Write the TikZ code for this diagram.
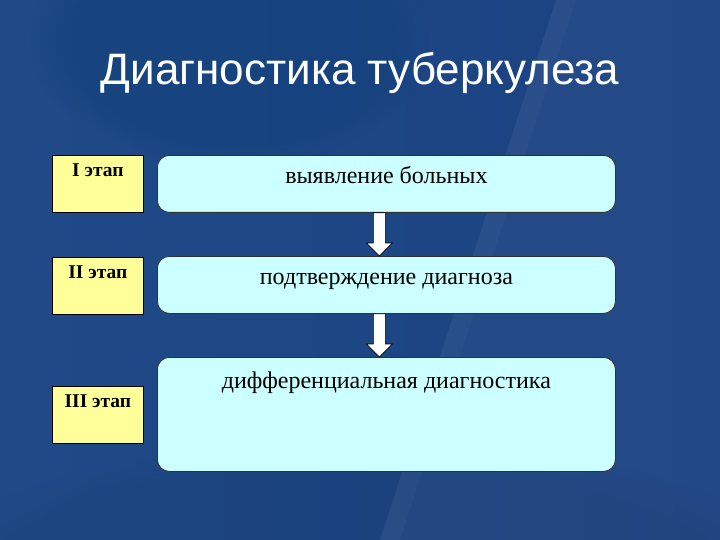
\documentclass[tikz,border=0pt]{standalone}
\usepackage{fontspec}
\setmainfont{Liberation Serif}
\newfontfamily\titlefont{Liberation Sans}
\usepackage{xcolor}
\usetikzlibrary{calc,positioning,fadings}
\definecolor{bgleft}{HTML}{1F4A87}
\definecolor{bgright}{HTML}{1B4282}
\definecolor{bgspot}{HTML}{0A3D74}
\definecolor{stagefill}{HTML}{FFFF99}
\definecolor{boxfill}{HTML}{CCFFFF}
\tikzset{
  heading/.style={text=white, font=\titlefont\fontsize{44}{48}\selectfont, anchor=base},
  stagebox/.style={draw=black, fill=stagefill, line width=0.8pt, minimum width=91pt, minimum height=57pt, inner sep=0pt},
  stagetext/.style={font=\fontsize{19.5}{22}\selectfont\bfseries, anchor=base, inner sep=0pt},
  bigbox/.style={draw=black!80, fill=boxfill, line width=0.8pt, rounded corners=12pt, minimum width=458pt, inner sep=0pt},
  boxtext/.style={font=\fontsize{24}{28}\selectfont, anchor=base, inner sep=0pt},
  blockarrow/.style={draw=black, fill=white, line width=0.6pt, line join=miter}
}

\begin{document}
\begin{tikzpicture}[x=1pt,y=-1pt]
  \useasboundingbox (0,0) rectangle (720,540);
  \shade[left color=bgleft, right color=bgright] (0,0) rectangle (720,540);
  \fill[bgspot, opacity=0.35, path fading=circle with fuzzy edge 20 percent] (230,40) ellipse (200 and 130);
  \fill[black, opacity=0.05, path fading=circle with fuzzy edge 20 percent] (360,580) ellipse (450 and 140);
  \fill[white, opacity=0.035] (556,0) -- (720,0) -- (720,540) -- (380,540) -- cycle;
  \fill[white, opacity=0.025] (556,0) -- (576,0) -- (400,540) -- (380,540) -- cycle;

  \node[heading] (title) at (360,85) {Диагностика туберкулеза};

  % stage boxes
  \node[stagebox, anchor=north west] (s1) at (52,155) {};
  \node[stagebox, anchor=north west] (s2) at (52,257) {};
  \node[stagebox, anchor=north west] (s3) at (52,386) {};
  \node[stagetext] (s1t) at ($(s1.north)+(0,22)$) {I этап};
  \node[stagetext] (s2t) at ($(s2.north)+(0,21)$) {II этап};
  \node[stagetext] (s3t) at ($(s3.north)+(0,21)$) {III этап};

  % main boxes
  \node[bigbox, minimum height=57pt, anchor=north west] (b1) at (157,155) {};
  \node[bigbox, minimum height=57pt, anchor=north west] (b2) at (157,256) {};
  \node[bigbox, minimum height=114pt, anchor=north west] (b3) at (157,357) {};
  \node[boxtext] (b1t) at ($(b1.north)+(0,29)$) {выявление больных};
  \node[boxtext] (b2t) at ($(b2.north)+(0,28)$) {подтверждение диагноза};
  \node[boxtext] (b3t) at ($(b3.north)+(0,31)$) {дифференциальная диагностика};

  % arrows
  \coordinate (a1) at ($(b1.south)+(-7,0)$);
  \coordinate (a2) at ($(b2.north)+(-7,0)$);
  \coordinate (a3) at ($(b2.south)+(-7,0)$);
  \coordinate (a4) at ($(b3.north)+(-7,0)$);
  \draw[blockarrow] ($(a1)+(-6,0)$) -- ($(a2)+(-6,-13)$) -- ($(a2)+(-13,-13)$) -- (a2)
    -- ($(a2)+(13,-13)$) -- ($(a2)+(6,-13)$) -- ($(a1)+(6,0)$) -- cycle;
  \draw[blockarrow] ($(a3)+(-6,0)$) -- ($(a4)+(-6,-13)$) -- ($(a4)+(-13,-13)$) -- (a4)
    -- ($(a4)+(13,-13)$) -- ($(a4)+(6,-13)$) -- ($(a3)+(6,0)$) -- cycle;
\end{tikzpicture}
\end{document}
